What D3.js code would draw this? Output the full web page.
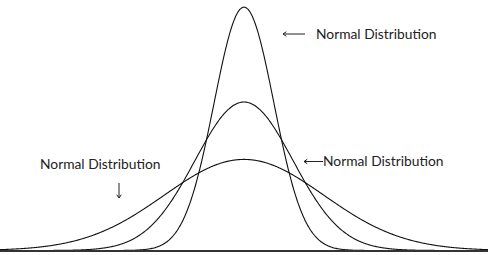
<html lang="en">
  <head>
    <meta charset="UTF-8" />
    <title>Normal Distributions</title>
    <script src="https://d3js.org/d3.v7.min.js"></script>
  </head>
  <body>
    <style>
      body {
        background-color: #ffffff;
        margin: 0;
        padding: 0;
      }
      svg {
        display: block;
      }
      .label {
        font-family: Lato, "Open Sans", sans-serif;
        font-size: 13.8px;
        fill: #222;
      }
    </style>
    <script>
      const w = 488;
      const h = 255;

      // standard deviations of the three curves (all mean 0)
      const sigmas = [0.61, 1, 1.63];
      const means = [0, 0, 0];
      const labels = ["Normal Distribution", "Normal Distribution", "Normal Distribution"];

      const xScale = d3.scaleLinear().domain([-4.98, 4.98]).range([0, w]);
      const yScale = d3.scaleLinear().domain([0, 0.399]).range([250.5, 102]);

      const pdf = (x, mu, s) =>
        Math.exp(-((x - mu) * (x - mu)) / (2 * s * s)) / (s * Math.sqrt(2 * Math.PI));

      const svg = d3
        .select("body")
        .append("svg")
        .attr("width", w)
        .attr("height", h);

      const line = d3
        .line()
        .x((d) => xScale(d[0]))
        .y((d) => yScale(d[1]))
        .curve(d3.curveBasis);

      const xs = d3.range(-4.98, 4.99, 0.02);

      svg
        .append("g")
        .selectAll("path")
        .data(sigmas)
        .enter()
        .append("path")
        .attr("d", (s, i) => line(xs.map((x) => [x, pdf(x, means[i], s)])))
        .attr("fill", "none")
        .attr("stroke", "#111")
        .attr("stroke-width", 1.1);

      // baseline
      svg
        .append("line")
        .attr("x1", 0)
        .attr("x2", w)
        .attr("y1", yScale(0) + 0.5)
        .attr("y2", yScale(0) + 0.5)
        .attr("stroke", "#333")
        .attr("stroke-width", 2);

      // labels + arrows
      const arrow = (x1, y1, x2, y2) => {
        // arrow from (x1,y1) pointing to (x2,y2)
        const a = Math.atan2(y2 - y1, x2 - x1);
        const hl = 4;
        svg
          .append("path")
          .attr(
            "d",
            `M${x1},${y1}L${x2},${y2}` +
              `M${x2 - hl * Math.cos(a - 0.6)},${y2 - hl * Math.sin(a - 0.6)}` +
              `L${x2},${y2}` +
              `L${x2 - hl * Math.cos(a + 0.6)},${y2 - hl * Math.sin(a + 0.6)}`
          )
          .attr("fill", "none")
          .attr("stroke", "#222")
          .attr("stroke-width", 1);
      };

      svg.append("text").attr("class", "label").attr("x", 316).attr("y", 39).text(labels[0]);
      arrow(305, 34, 283, 34);

      svg.append("text").attr("class", "label").attr("x", 323).attr("y", 166).text(labels[1]);
      arrow(323, 161.5, 304, 161.5);

      svg.append("text").attr("class", "label").attr("x", 40).attr("y", 169).text(labels[2]);
      arrow(119, 183, 119, 198);
    </script>
  </body>
</html>
